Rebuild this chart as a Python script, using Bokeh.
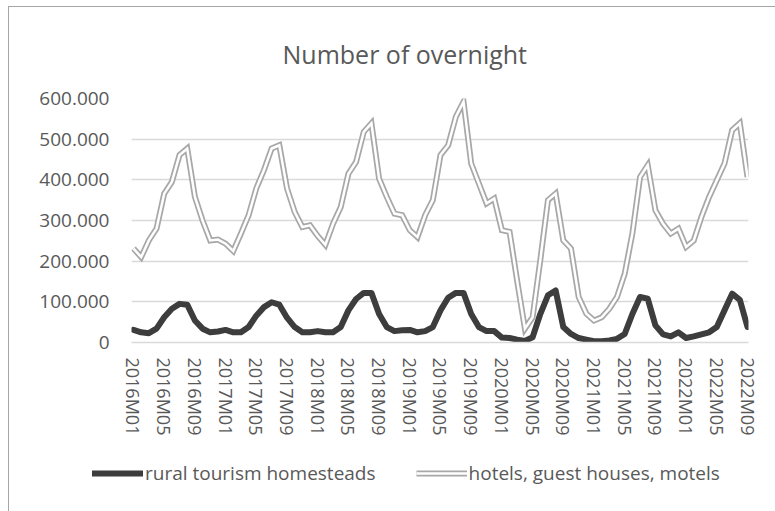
from bokeh.plotting import figure
from bokeh.models import Range1d, FixedTicker, Legend, LegendItem
from bokeh.layouts import column, row
from bokeh.embed import file_html
from bokeh.resources import INLINE

# Monthly data 2016M01 .. 2022M09
years = [2016, 2017, 2018, 2019, 2020, 2021, 2022]
months = [f"{y}M{m:02d}" for y in years for m in range(1, 13)][:81]

rural = [31000, 25000, 23000, 34000, 62000, 83000, 95000, 93000, 54000, 34000, 25000, 27000,
         31000, 25000, 25000, 38000, 66000, 87000, 99000, 93000, 61000, 38000, 25000, 25000,
         28000, 25000, 25000, 38000, 79000, 107000, 122000, 122000, 70000, 38000, 28000, 30000,
         31000, 25000, 28000, 38000, 79000, 110000, 122000, 122000, 70000, 38000, 28000, 28000,
         12000, 11000, 7000, 4000, 13000, 70000, 116000, 128000, 38000, 21000, 11000, 7000,
         3000, 3000, 5000, 9000, 21000, 70000, 112000, 108000, 42000, 20000, 15000, 25000,
         11000, 15000, 20000, 25000, 38000, 79000, 120000, 105000, 38000]

hotels = [231000, 210000, 251000, 280000, 366000, 395000, 461000, 477000, 358000, 300000, 251000, 253000,
          243000, 225000, 268000, 313000, 379000, 424000, 477000, 485000, 379000, 321000, 284000, 288000,
          262000, 240000, 292000, 333000, 415000, 444000, 518000, 539000, 403000, 358000, 317000, 313000,
          276000, 259000, 313000, 350000, 461000, 485000, 555000, 592000, 440000, 391000, 342000, 354000,
          276000, 272000, 150000, 34000, 62000, 202000, 350000, 366000, 251000, 231000, 112000, 71000,
          54000, 62000, 83000, 112000, 169000, 268000, 407000, 436000, 325000, 292000, 268000, 280000,
          235000, 251000, 309000, 358000, 399000, 440000, 522000, 539000, 407000]

y_ticks = [0, 100000, 200000, 300000, 400000, 500000, 600000]
y_tick_labels = ["0", "100.000", "200.000", "300.000", "400.000", "500.000", "600.000"]

series_names = ["rural tourism homesteads", "hotels, guest houses, motels"]
title_text = "Number of overnight"

x = list(range(len(months)))

FONT = "Open Sans"
TXT = "#595959"
RURAL_C = "#3d3d3d"
HOT_C = "#a8a8a8"

p = figure(width=766, height=440, output_backend="svg", toolbar_location=None,
           x_range=Range1d(-0.26, 80.13), y_range=Range1d(0, 600000),
           min_border_left=122, min_border_right=27, min_border_top=91, min_border_bottom=105,
           background_fill_color="white", border_fill_color="white")
p.outline_line_color = None

p.title.text = title_text
p.title.align = "left"
p.title.offset = 151
p.title.standoff = 55
p.title.text_font = FONT
p.title.text_font_size = "25px"
p.title.text_font_style = "normal"
p.title.text_color = TXT

# grid
p.xgrid.grid_line_color = None
p.ygrid.grid_line_color = "#d9d9d9"
p.ygrid.grid_line_width = 1.5

# y axis
p.yaxis.ticker = FixedTicker(ticks=y_ticks)
p.yaxis.major_label_overrides = {t: l for t, l in zip(y_ticks, y_tick_labels)}
p.yaxis.axis_line_color = None
p.yaxis.major_tick_line_color = None
p.yaxis.minor_tick_line_color = None
p.yaxis.major_tick_out = 0
p.yaxis.major_tick_in = 0
p.yaxis.major_label_standoff = 22
p.yaxis.major_label_text_font = FONT
p.yaxis.major_label_text_font_size = "19px"
p.yaxis.major_label_text_color = TXT

# x axis
tick_idx = list(range(0, len(months), 4))
p.xaxis.ticker = FixedTicker(ticks=tick_idx)
p.xaxis.major_label_overrides = {i: months[i] for i in tick_idx}
p.xaxis.major_label_orientation = "vertical"
p.xaxis.axis_line_color = "#d9d9d9"
p.xaxis.axis_line_width = 1.5
p.xaxis.major_tick_line_color = None
p.xaxis.minor_tick_line_color = None
p.xaxis.major_tick_out = 0
p.xaxis.major_tick_in = 0
p.xaxis.major_label_standoff = 15
p.xaxis.major_label_text_font = FONT
p.xaxis.major_label_text_font_size = "18px"
p.xaxis.major_label_text_color = TXT

p.line(x, rural, line_color=RURAL_C, line_width=6, line_join="round", line_cap="round")
p.line(x, hotels, line_color=HOT_C, line_width=6, line_join="miter")
p.line(x, hotels, line_color="white", line_width=2.5, line_join="miter")

# legend strip below the chart (its own frame spans the whole strip;
# the series are drawn there too but fall outside its 0..1 range)
L = figure(width=766, height=64, output_backend="svg", toolbar_location=None,
           x_range=Range1d(0, 1), y_range=Range1d(0, 1),
           x_axis_type=None, y_axis_type=None,
           min_border_left=0, min_border_right=0, min_border_top=0, min_border_bottom=0,
           background_fill_color="white", border_fill_color="white")
L.outline_line_color = None
L.xgrid.visible = False
L.ygrid.visible = False
lr = L.line(x, rural, line_color=RURAL_C, line_width=6, line_cap="round")
lh1 = L.line(x, hotels, line_color=HOT_C, line_width=6)
lh2 = L.line(x, hotels, line_color="white", line_width=2.5)

legend = Legend(items=[LegendItem(label=series_names[0], renderers=[lr]),
                       LegendItem(label=series_names[1], renderers=[lh1, lh2])],
                orientation="horizontal", location=(83, 25))
legend.border_line_color = None
legend.background_fill_alpha = 0
legend.padding = 0
legend.margin = 0
legend.spacing = 40
legend.glyph_width = 51
legend.glyph_height = 24
legend.label_standoff = 2
legend.label_text_font = FONT
legend.label_text_font_size = "19px"
legend.label_text_color = TXT
L.add_layout(legend)

layout = column(p, row(L, spacing=0), spacing=0,
                styles={"border-left": "1px solid #a6a6a6", "border-top": "1px solid #a6a6a6",
                        "margin-left": "8px", "margin-top": "6px"})

open("out.html", "w").write(file_html(layout, INLINE))
